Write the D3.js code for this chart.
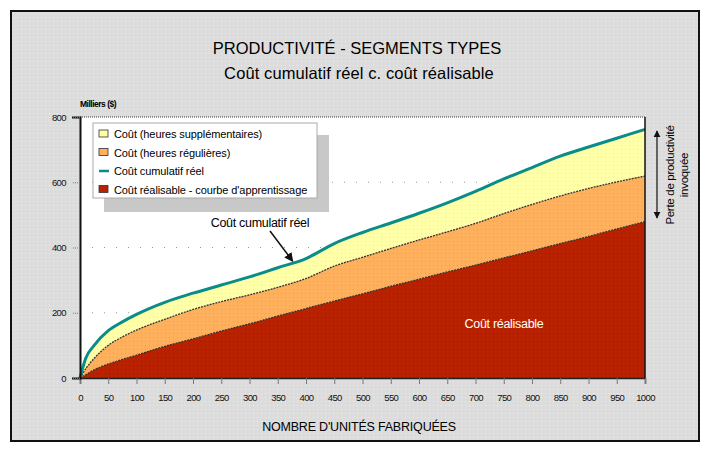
<!doctype html>
<html lang="fr">
<head>
<meta charset="utf-8">
<title>Productivité - segments types</title>
<style>
  body { margin: 0; background: #fff; }
  svg { display: block; font-family: "Liberation Sans", Arial, sans-serif; }
</style>
</head>
<body>
<div id="chart"></div>
<script src="https://cdn.jsdelivr.net/npm/d3@7"></script>
<script>
// unites fabriquees
var units = [0, 10, 25, 50, 75, 100, 150, 200, 250, 300, 350, 400, 450, 500, 550, 600, 650, 700, 750, 800, 850, 900, 950, 1000];
// cout cumulatif reel (haut de la zone jaune)
var realCost = [0, 60, 100, 145, 172, 195, 232, 260, 285, 310, 338, 366, 412, 446, 475, 505, 537, 572, 610, 645, 680, 708, 735, 762];
// cout heures regulieres (haut de la zone orange)
var regularCost = [0, 28, 60, 100, 126, 147, 180, 210, 234, 255, 278, 305, 343, 370, 397, 423, 448, 474, 504, 532, 558, 581, 601, 619];
// cout realisable - courbe d'apprentissage
var feasibleCost = [0, 10, 25, 43, 57, 70, 97, 120, 144, 166, 190, 213, 236, 258, 281, 303, 325, 346, 368, 390, 412, 434, 457, 479];

var yTicks = [0, 200, 400, 600, 800];
var xTicks = d3.range(0, 1001, 50);
var legendItems = [
  { label: "Coût (heures supplémentaires)", type: "box", color: "#ffffa8" },
  { label: "Coût (heures régulières)", type: "box", color: "#ffb05c" },
  { label: "Coût cumulatif réel", type: "line", color: "#0a8c88" },
  { label: "Coût réalisable - courbe d'apprentissage", type: "box", color: "#b82200" }
];

var width = 710, height = 453;
var x0 = 80, x1 = 645, yTop = 117, yBottom = 378;

var svg = d3.select("#chart").append("svg")
    .attr("width", width).attr("height", height);

// textures pointillees
var defs = svg.append("defs");
function dots(id, bg, dot) {
  var p = defs.append("pattern").attr("id", id)
      .attr("width", 4).attr("height", 4).attr("patternUnits", "userSpaceOnUse");
  p.append("rect").attr("width", 4).attr("height", 4).attr("fill", bg);
  p.append("rect").attr("x", 1).attr("y", 1).attr("width", 1).attr("height", 1).attr("fill", dot);
}
dots("bgDots", "#dcdcdc", "#ececec");
dots("yellowDots", "#ffffa8", "#f4f08c");
dots("orangeDots", "#ffb05c", "#f59a48");
dots("redDots", "#b82200", "#a01800");

// cadre
svg.append("rect").attr("x", 11).attr("y", 11).attr("width", 688).attr("height", 430)
    .attr("fill", "url(#bgDots)").attr("stroke", "#111").attr("stroke-width", 2);

var x = d3.scaleLinear().domain([0, 1000]).range([x0, x1]);
var y = d3.scaleLinear().domain([0, 800]).range([yBottom, yTop]);

var data = units.map(function(u, i) {
  return { u: u, real: realCost[i], reg: regularCost[i], feas: feasibleCost[i] };
});

// titres
svg.append("text").attr("x", 357).attr("y", 54).attr("text-anchor", "middle")
    .attr("font-size", 16.5).text("PRODUCTIVITÉ - SEGMENTS TYPES");
svg.append("text").attr("x", 359).attr("y", 79).attr("text-anchor", "middle")
    .attr("font-size", 16.5).attr("letter-spacing", 0.1).text("Coût cumulatif réel c. coût réalisable");
svg.append("text").attr("x", 80).attr("y", 107).attr("font-size", 8.5).attr("font-weight", "bold")
    .attr("letter-spacing", -0.5).text("Milliers ($)");

// zone de trace
svg.append("rect").attr("x", x0).attr("y", yTop).attr("width", x1 - x0).attr("height", yBottom - yTop)
    .attr("fill", "#fff");

// grille
svg.append("g").selectAll("line").data(yTicks.slice(1, 4)).join("line")
    .attr("x1", x0).attr("x2", x1).attr("y1", y).attr("y2", y)
    .attr("stroke", "#999").attr("stroke-width", 1).attr("stroke-dasharray", "1,11");

var curve = d3.curveMonotoneX;
var areaTop = d3.area().x(function(d) { return x(d.u); }).y0(function(d) { return y(d.reg); })
    .y1(function(d) { return y(d.real); }).curve(curve);
var areaMid = d3.area().x(function(d) { return x(d.u); }).y0(function(d) { return y(d.feas); })
    .y1(function(d) { return y(d.reg); }).curve(curve);
var areaLow = d3.area().x(function(d) { return x(d.u); }).y0(y(0))
    .y1(function(d) { return y(d.feas); }).curve(curve);

svg.append("path").datum(data).attr("d", areaTop).attr("fill", "url(#yellowDots)");
svg.append("path").datum(data).attr("d", areaMid).attr("fill", "url(#orangeDots)");
svg.append("path").datum(data).attr("d", areaLow).attr("fill", "url(#redDots)");

var lineReg = d3.line().x(function(d) { return x(d.u); }).y(function(d) { return y(d.reg); }).curve(curve);
var lineFeas = d3.line().x(function(d) { return x(d.u); }).y(function(d) { return y(d.feas); }).curve(curve);
var lineReal = d3.line().x(function(d) { return x(d.u); }).y(function(d) { return y(d.real); }).curve(curve);

svg.append("path").datum(data).attr("d", lineReg).attr("fill", "none")
    .attr("stroke", "#333").attr("stroke-width", 1.3).attr("stroke-dasharray", "2,1");
svg.append("path").datum(data).attr("d", lineFeas).attr("fill", "none")
    .attr("stroke", "#333").attr("stroke-width", 1.3).attr("stroke-dasharray", "2,1");
svg.append("path").datum(data).attr("d", lineReal).attr("fill", "none")
    .attr("stroke", "#0a8c88").attr("stroke-width", 3);

// bordure de la zone
svg.append("line").attr("x1", x0).attr("x2", x1).attr("y1", yTop).attr("y2", yTop)
    .attr("stroke", "#777").attr("stroke-width", 1.5).attr("stroke-dasharray", "1,1");
svg.append("line").attr("x1", x1).attr("x2", x1).attr("y1", yTop).attr("y2", yBottom)
    .attr("stroke", "#111").attr("stroke-width", 1.5);

// axes
var xAxis = svg.append("g").attr("transform", "translate(0," + yBottom + ")")
    .call(d3.axisBottom(x).tickValues(xTicks).tickFormat(d3.format("d")).tickSize(6).tickPadding(10));
xAxis.select(".domain").attr("stroke", "#222").attr("stroke-width", 1.5);
xAxis.selectAll(".tick line").attr("stroke", "#777");
xAxis.selectAll("text").attr("font-size", 9.5).attr("letter-spacing", -0.6)
    .attr("font-family", "Liberation Sans, Arial, sans-serif").attr("fill", "#111");

var yAxis = svg.append("g").attr("transform", "translate(" + x0 + ",0)")
    .call(d3.axisLeft(y).tickValues(yTicks).tickSize(8).tickPadding(6));
yAxis.select(".domain").attr("stroke", "#111").attr("stroke-width", 2);
yAxis.selectAll(".tick line").attr("stroke", "#777").attr("stroke-dasharray", "1,1");
yAxis.selectAll("text").attr("font-size", 9.5).attr("letter-spacing", -0.6)
    .attr("font-family", "Liberation Sans, Arial, sans-serif").attr("fill", "#111");

svg.append("text").attr("x", 359).attr("y", 431).attr("text-anchor", "middle")
    .attr("font-size", 12.5).attr("letter-spacing", -0.2).text("NOMBRE D'UNITÉS FABRIQUÉES");

// legende
var lg = svg.append("g").attr("transform", "translate(93,123)");
lg.append("rect").attr("x", 11).attr("y", 12).attr("width", 225).attr("height", 77).attr("fill", "#c8c8c8");
lg.append("rect").attr("x", 0).attr("y", 0).attr("width", 224).attr("height", 75)
    .attr("fill", "#fff").attr("stroke", "#aaa");
var li = lg.selectAll("g.item").data(legendItems).join("g").attr("class", "item")
    .attr("transform", function(d, i) { return "translate(6," + (11 + i * 18.5) + ")"; });
li.filter(function(d) { return d.type === "box"; }).append("rect")
    .attr("x", 0).attr("y", -4).attr("width", 9).attr("height", 7)
    .attr("fill", function(d) { return d.color; }).attr("stroke", "#333").attr("stroke-width", 0.8);
li.filter(function(d) { return d.type === "line"; }).append("line")
    .attr("x1", 0).attr("x2", 10).attr("y1", 0).attr("y2", 0)
    .attr("stroke", function(d) { return d.color; }).attr("stroke-width", 2.5);
li.append("text").attr("x", 15).attr("y", 4).attr("font-size", 11).attr("letter-spacing", -0.1)
    .text(function(d) { return d.label; });

// annotations
svg.append("text").attr("x", 260).attr("y", 227).attr("text-anchor", "middle")
    .attr("font-size", 12.5).attr("letter-spacing", -0.3).text("Coût cumulatif réel");
defs.append("marker").attr("id", "arrow").attr("viewBox", "0 0 10 10").attr("refX", 9).attr("refY", 5)
    .attr("markerWidth", 6).attr("markerHeight", 6).attr("orient", "auto-start-reverse")
    .append("path").attr("d", "M0,0L10,5L0,10z").attr("fill", "#111");
svg.append("line").attr("x1", 270).attr("y1", 231).attr("x2", x(380) - 2).attr("y2", y(352) - 2)
    .attr("stroke", "#111").attr("stroke-width", 1.5).attr("marker-end", "url(#arrow)");

svg.append("text").attr("x", 504).attr("y", 328).attr("text-anchor", "middle")
    .attr("font-size", 12.5).attr("letter-spacing", -0.3).attr("fill", "#fff").text("Coût réalisable");

// perte de productivite
svg.append("line").attr("x1", 657).attr("x2", 657).attr("y1", 131).attr("y2", 218)
    .attr("stroke", "#111").attr("stroke-width", 1.2)
    .attr("marker-start", "url(#arrow)").attr("marker-end", "url(#arrow)");
var rt = svg.append("text").attr("transform", "translate(674,175) rotate(-90)")
    .attr("text-anchor", "middle").attr("font-size", 11.5).attr("letter-spacing", -0.3);
rt.append("tspan").attr("x", 0).attr("y", 0).text("Perte de productivité");
rt.append("tspan").attr("x", 0).attr("y", 14).text("invoquée");
</script>
</body>
</html>
